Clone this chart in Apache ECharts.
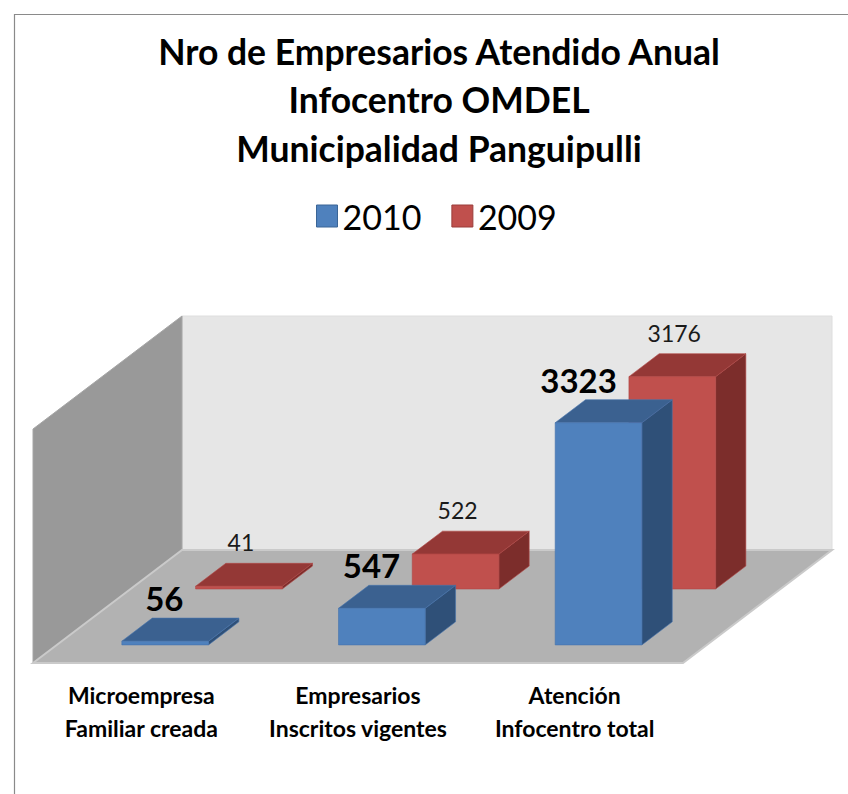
<!DOCTYPE html>
<html>
<head>
<meta charset="utf-8">
<script src="https://cdn.jsdelivr.net/npm/echarts@6/dist/echarts.min.js"></script>
<style>
  html, body { margin: 0; padding: 0; background: #fff; }
  #main { width: 848px; height: 794px; }
</style>
</head>
<body>
<div id="main"></div>
<script>
  var categories = ['Microempresa\nFamiliar creada', 'Empresarios\nInscritos vigentes', 'Atención\nInfocentro total'];
  var values2010 = [56, 547, 3323];
  var values2009 = [41, 522, 3176];
  var seriesNames = ['2010', '2009'];

  // depth of the 3D box (pixels for the full floor depth)
  var DX = 149, DY = 113;
  var BAR_RATIO = 0.4;

  function wallItem(params, api) {
    var cs = params.coordSys;
    var l = cs.x, r = cs.x + cs.width, t = cs.y, b = cs.y + cs.height;
    return {
      type: 'group',
      children: [
        { type: 'polygon', shape: { points: [[l + DX, t - DY], [r + DX, t - DY], [r + DX, b - DY], [l + DX, b - DY]] },
          style: { fill: '#e6e6e6', stroke: '#dedede', lineWidth: 1 } },
        { type: 'polygon', shape: { points: [[l, t], [l + DX, t - DY], [l + DX, b - DY], [l, b]] },
          style: { fill: '#999999', stroke: '#a6a6a6', lineWidth: 1 } },
        { type: 'polygon', shape: { points: [[l, b], [l + DX, b - DY], [r + DX, b - DY], [r, b]] },
          style: { fill: '#b2b2b2', stroke: '#cacaca', lineWidth: 2 } }
      ]
    };
  }

  function barRenderer(zf, zb, colors, label) {
    return function (params, api) {
      var i = api.value(0), v = api.value(1);
      var base = api.coord([i, 0]);
      var top = api.coord([i, v]);
      var bw = api.size([1, 0])[0] * BAR_RATIO;
      var x0 = base[0] - bw / 2 + zf * DX;
      var y0 = base[1] - zf * DY;
      var h = base[1] - top[1];
      var ddx = (zb - zf) * DX, ddy = (zb - zf) * DY;
      var yt = y0 - h;
      var lx = label.align === 'right' ? x0 + bw + label.dx : x0 + bw / 2 + label.dx;
      return {
        type: 'group',
        children: [
          { type: 'polygon', shape: { points: [[x0 + bw, yt], [x0 + bw + ddx, yt - ddy], [x0 + bw + ddx, y0 - ddy], [x0 + bw, y0]] },
            style: { fill: colors.side, stroke: colors.edge, lineWidth: 0.6 } },
          { type: 'polygon', shape: { points: [[x0, yt], [x0 + bw, yt], [x0 + bw + ddx, yt - ddy], [x0 + ddx, yt - ddy]] },
            style: { fill: colors.top, stroke: colors.edge, lineWidth: 0.6 } },
          { type: 'rect', shape: { x: x0, y: yt, width: bw, height: Math.max(h, 1) },
            style: { fill: colors.front, stroke: colors.edge, lineWidth: 0.6 } },
          { type: 'text', x: lx, y: yt - ddy + label.dy,
            style: { text: String(v), fill: label.color, font: label.font, align: label.align, verticalAlign: 'middle' } }
        ]
      };
    };
  }

  var chart = echarts.init(document.getElementById('main'), null, { renderer: 'svg' });
  chart.setOption({
    animation: false,
    backgroundColor: '#ffffff',
    graphic: [{
      type: 'rect', silent: true, z: -10,
      shape: { x: 14.5, y: 14.5, width: 900, height: 900 },
      style: { fill: 'none', stroke: '#8a8a8a', lineWidth: 1.2 }
    }],
    title: {
      text: 'Nro de Empresarios Atendido Anual\nInfocentro OMDEL\nMunicipalidad Panguipulli',
      left: 434, top: 22, textAlign: 'center',
      textStyle: { fontFamily: 'Lato', fontWeight: 'bold', fontSize: 35.5, lineHeight: 48.5, color: '#000' }
    },
    legend: {
      left: 311, top: 194,
      icon: 'rect', itemWidth: 21, itemHeight: 22, itemGap: 30,
      textStyle: { fontFamily: 'Lato', fontSize: 34, lineHeight: 34, color: '#000' },
      data: [
        { name: seriesNames[0], itemStyle: { borderColor: '#3a6596', borderWidth: 1 } },
        { name: seriesNames[1], itemStyle: { borderColor: '#9a3d3a', borderWidth: 1 } }
      ]
    },
    grid: { left: 33, right: 165, top: 429, bottom: 131, containLabel: false },
    xAxis: {
      type: 'category', data: categories,
      axisLine: { show: false }, axisTick: { show: false }, splitLine: { show: false },
      axisLabel: { interval: 0, margin: 15, fontFamily: 'Lato', fontWeight: 'bold', fontSize: 23, lineHeight: 33, color: '#000' }
    },
    yAxis: { type: 'value', min: 0, max: 3500, show: false },
    series: [
      {
        type: 'custom', name: 'walls', silent: true, z: 0,
        data: [[0, 0]], encode: { x: 0, y: 1 },
        renderItem: wallItem
      },
      {
        type: 'custom', name: seriesNames[1], z: 1,
        itemStyle: { color: '#c0504d' },
        data: values2009.map(function (v, i) { return [i, v]; }),
        encode: { x: 0, y: 1 },
        renderItem: barRenderer(0.655, 0.858,
          { front: '#c0504d', top: '#943836', side: '#7c2d2b', edge: '#b04744' },
          { align: 'center', dx: 2, dy: -21, color: '#1a1a1a', font: '23px Lato' })
      },
      {
        type: 'custom', name: seriesNames[0], z: 2,
        itemStyle: { color: '#4f81bd' },
        data: values2010.map(function (v, i) { return [i, v]; }),
        encode: { x: 0, y: 1 },
        renderItem: barRenderer(0.16, 0.364,
          { front: '#4f81bd', top: '#3b6190', side: '#2f5078', edge: '#4674ad' },
          { align: 'right', dx: -25, dy: -20, color: '#000', font: 'bold 33px Lato' })
      }
    ]
  });
</script>
</body>
</html>
